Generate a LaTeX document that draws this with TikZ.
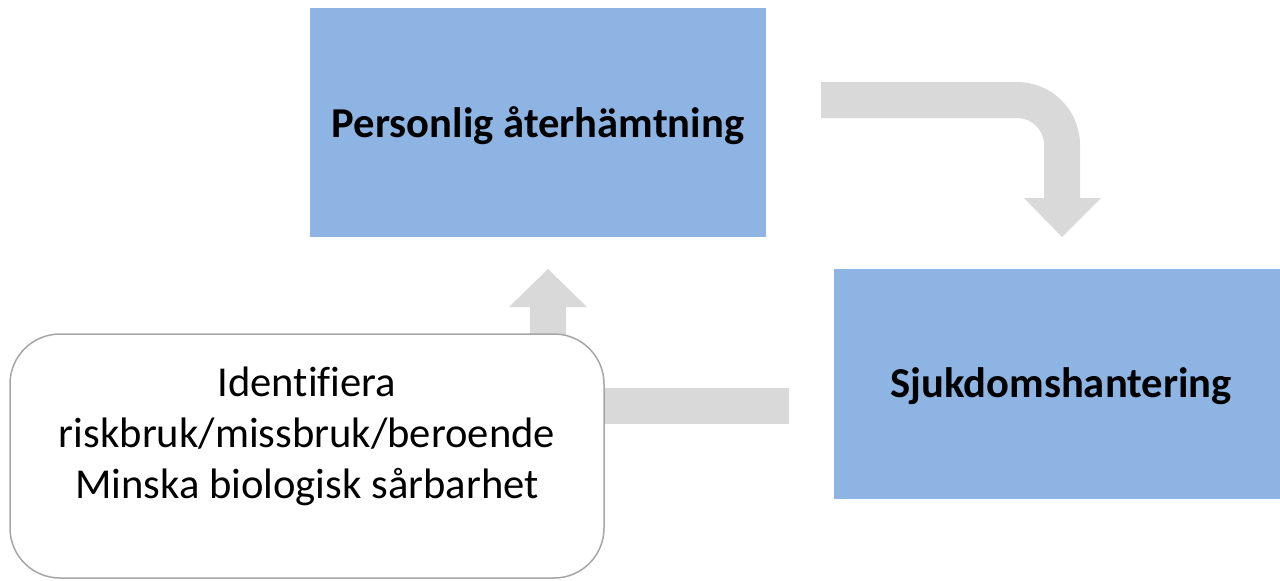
\documentclass[tikz,border=0pt]{standalone}
\usepackage{fontspec}
\setmainfont{Carlito}[Ligatures=NoCommon]
\definecolor{boxblue}{HTML}{8EB4E3}
\definecolor{arrowgray}{HTML}{D9D9D9}
\definecolor{edgegray}{HTML}{A6A6A6}
\begin{document}
\begin{tikzpicture}[x=1pt,y=-1pt,
  bluebox/.style={fill=boxblue, draw=none, minimum width=456pt, minimum height=229pt,
    inner sep=0pt},
  boldlabel/.style={font=\fontsize{42.6}{51}\selectfont\bfseries},
  softbox/.style={fill=white, draw=edgegray, line width=1.5pt, rounded corners=50pt,
    minimum width=594pt, minimum height=244pt, inner sep=0pt},
  band/.style={draw=arrowgray, line width=36pt, line cap=butt},
  head/.style={fill=arrowgray, draw=none}]
\useasboundingbox (0,0) rectangle (1280,581);

% block arrows, drawn first so the boxes sit on top
\coordinate (bendstart) at (821,100);
\coordinate (bendcorner) at (1062,100);
\coordinate (bendend) at (1062,198);
\draw[band, rounded corners=45pt] (bendstart) -- (bendcorner) -- (bendend);
\fill[head] (1024,198) -- (1101,198) -- (1062,237) -- cycle;

\coordinate (loopstart) at (789,406);
\coordinate (loopcorner) at (548,406);
\coordinate (loopend) at (548,307);
\draw[band, line join=miter] (loopstart) -- (loopcorner) -- (loopend);
\fill[head] (509,307) -- (587,307) -- (548,269) -- cycle;

% boxes
\node[bluebox] (recovery) at (538,122.5) {};
\node[boldlabel] (recoverytext) at (538,126) {Personlig återhämtning};

\node[bluebox, minimum width=446pt, minimum height=230pt] (illness) at (1057,384) {};
\node[boldlabel] (illnesstext) at (1061,386) {Sjukdomshantering};

\node[softbox] (identify) at (307,456) {};
\node[align=center, font=\fontsize{42.6}{51}\selectfont] (identifytext) at (307,436)
  {Identifiera\\riskbruk/missbruk/beroende\\Minska biologisk sårbarhet};
\end{tikzpicture}
\end{document}
